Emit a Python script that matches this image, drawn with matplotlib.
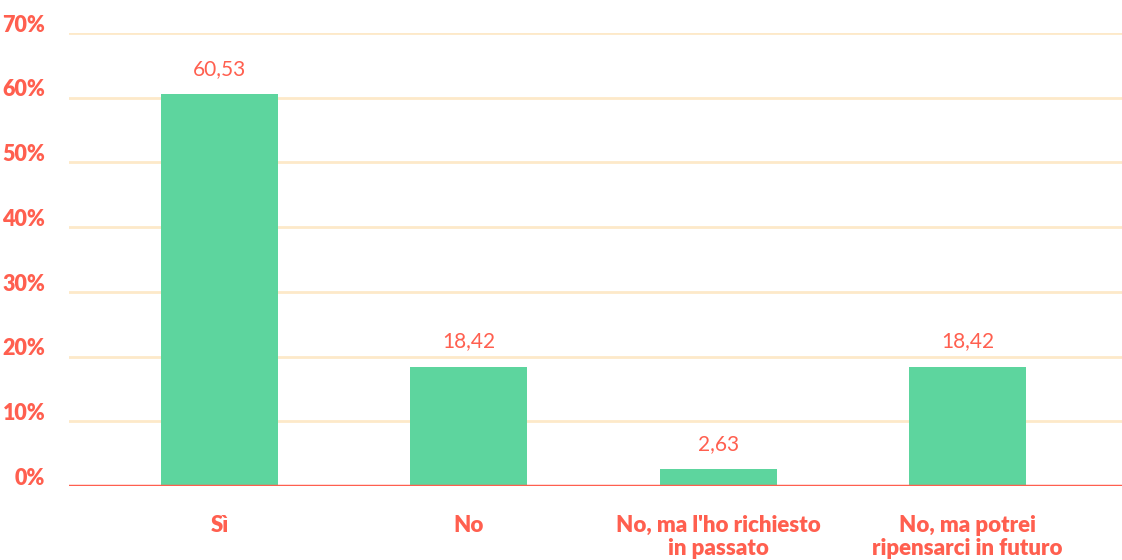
import matplotlib.pyplot as plt
import matplotlib.transforms as mtransforms

categories = ["Sì", "No", "No, ma l'ho richiesto\nin passato", "No, ma potrei\nripensarci in futuro"]
values = [60.53, 18.42, 2.63, 18.42]
value_labels = ["60,53", "18,42", "2,63", "18,42"]
yticks = [0, 10, 20, 30, 40, 50, 60, 70]

red = "#ff5f4f"
green = "#5dd59e"
grid = "#fde9c9"

plt.rcParams['font.family'] = ['Lato', 'DejaVu Sans']

fig = plt.figure(figsize=(11.22, 5.6), dpi=100)
ax = fig.add_axes([69 / 1122, 1 - 486 / 560, 1053 / 1122, 453 / 560])

x = range(len(categories))
ax.bar(x, values, width=0.47, color=green, zorder=2)
ax.set_xlim(-0.603, 3.619)
ax.set_ylim(0, 70)

for yv in yticks[1:]:
    ax.axhline(yv, color=grid, lw=2, zorder=1)
ax.axhline(0, color=red, lw=2.5, zorder=3)

for s in ax.spines.values():
    s.set_visible(False)

ax.set_yticks(yticks)
ax.set_yticklabels([f"{v}%" for v in yticks])
ax.tick_params(axis='y', length=0, pad=17, labelsize=15.5, labelcolor=red)
for lab in ax.get_yticklabels():
    lab.set_fontweight('heavy')
    lab.set_transform(lab.get_transform() + mtransforms.ScaledTranslation(0, 7 / 72, fig.dpi_scale_trans))

ax.set_xticks(list(x))
ax.set_xticklabels(categories, fontsize=16, fontweight='heavy', color=red, linespacing=1.1, va='top')
ax.tick_params(axis='x', length=0, pad=21)

for xi, v, t in zip(x, values, value_labels):
    ax.annotate(t, (xi, v), xytext=(0, 11), textcoords='offset points',
                ha='center', va='bottom', fontsize=15, color=red)

fig.savefig("out.png", dpi=100)
